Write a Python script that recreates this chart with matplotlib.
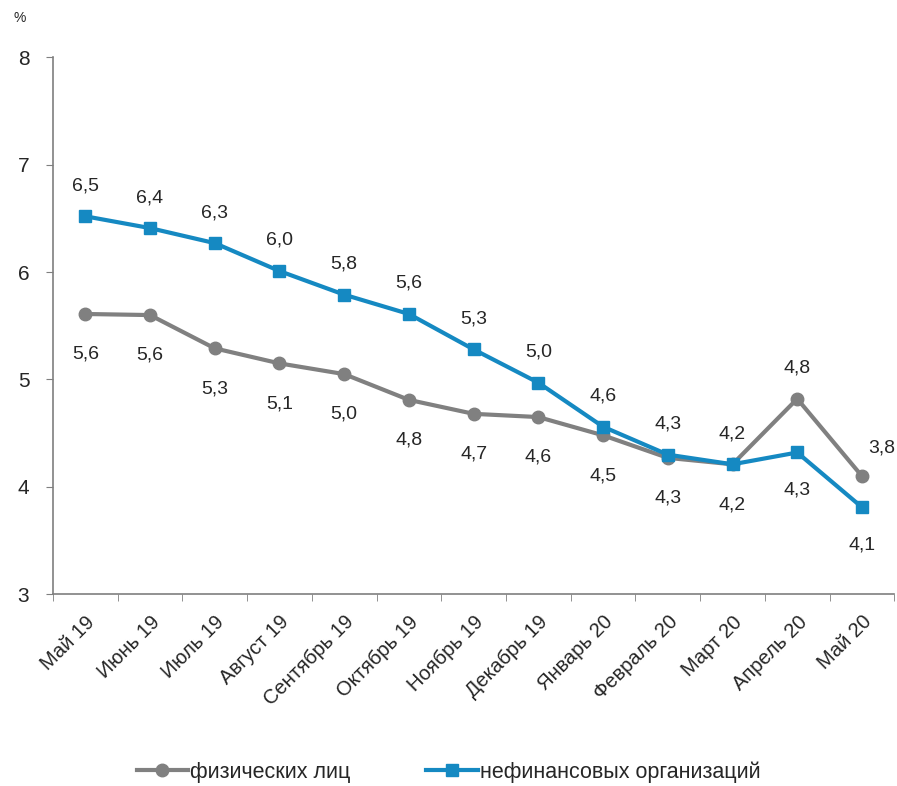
#!/usr/bin/env python3
"""Interest-rate style line chart: individuals vs non-financial organisations, May 19 - May 20."""
import matplotlib

matplotlib.use("Agg")
import matplotlib.pyplot as plt
import numpy as np

plt.rcParams["font.family"] = ["Liberation Sans", "DejaVu Sans"]

MONTHS = ["Май 19", "Июнь 19", "Июль 19", "Август 19", "Сентябрь 19", "Октябрь 19",
          "Ноябрь 19", "Декабрь 19", "Январь 20", "Февраль 20", "Март 20",
          "Апрель 20", "Май 20"]

# values (plotted positions)
PERSONS = [5.61, 5.60, 5.29, 5.15, 5.05, 4.81, 4.68, 4.65, 4.48, 4.27, 4.21, 4.82, 4.10]
NONFIN = [6.52, 6.41, 6.27, 6.01, 5.79, 5.61, 5.28, 4.97, 4.56, 4.30, 4.21, 4.32, 3.81]

# data labels as printed in the source
PERSONS_LABELS = ["5,6", "5,6", "5,3", "5,1", "5,0", "4,8", "4,7", "4,6", "4,5", "4,3",
                  "4,2", "4,8", "3,8"]
NONFIN_LABELS = ["6,5", "6,4", "6,3", "6,0", "5,8", "5,6", "5,3", "5,0", "4,6", "4,3",
                 "4,2", "4,3", "4,1"]

SERIES_NAMES = ["физических лиц", "нефинансовых организаций"]
GRAY = "#808080"
BLUE = "#1589c2"
TEXT = "#262626"

fig = plt.figure(figsize=(8.97, 7.86), dpi=100)
ax = fig.add_axes([0.059, 0.244, 0.938, 0.683])

x = np.arange(len(MONTHS))
ax.plot(x, PERSONS, color=GRAY, lw=3, marker="o", ms=9, label=SERIES_NAMES[0], zorder=3)
ax.plot(x, NONFIN, color=BLUE, lw=3, marker="s", ms=8, label=SERIES_NAMES[1], zorder=4)

# labels: blue above, gray below; the last pair sits differently in the source
for i in x:
    if i == 12:
        off = (14, 20)
    elif i == 11:
        off = (0, 22)
    else:
        off = (0, -29)
    ax.annotate(PERSONS_LABELS[i], (i, PERSONS[i]), xytext=off,
                textcoords="offset points", ha="center", va="center",
                fontsize=14, color=TEXT)
    dy = -27 if i in (11, 12) else 22
    ax.annotate(NONFIN_LABELS[i], (i, NONFIN[i]), xytext=(0, dy),
                textcoords="offset points", ha="center", va="center",
                fontsize=14, color=TEXT)

ax.set_xlim(-0.5, len(MONTHS) - 0.5)
ax.set_ylim(3, 8)
ax.set_yticks([3, 4, 5, 6, 7, 8])
ax.set_xticks(x)
ax.set_xticklabels(MONTHS, rotation=45, ha="right", rotation_mode="anchor",
                   fontsize=14.5, color=TEXT)
ax.set_xticks(np.arange(-0.5, len(MONTHS)), minor=True)
ax.tick_params(axis="x", which="major", length=0, pad=13)
ax.tick_params(axis="x", which="minor", length=5, color="#7f7f7f")
ax.tick_params(axis="y", length=5, color="#7f7f7f", labelsize=15, labelcolor=TEXT, pad=12)

for side in ("top", "right"):
    ax.spines[side].set_visible(False)
for side in ("left", "bottom"):
    ax.spines[side].set_color("#7f7f7f")
    ax.spines[side].set_linewidth(1.2)

fig.text(0.022, 0.977, "%", fontsize=10, color=TEXT, ha="center", va="center")

fig.legend(loc="center", bbox_to_anchor=(0.5, 0.018), ncol=2, frameon=False,
           fontsize=15.5, handlelength=2.4, handletextpad=0.1, columnspacing=3.5,
           labelcolor=TEXT)

fig.savefig("out.png", dpi=100)
